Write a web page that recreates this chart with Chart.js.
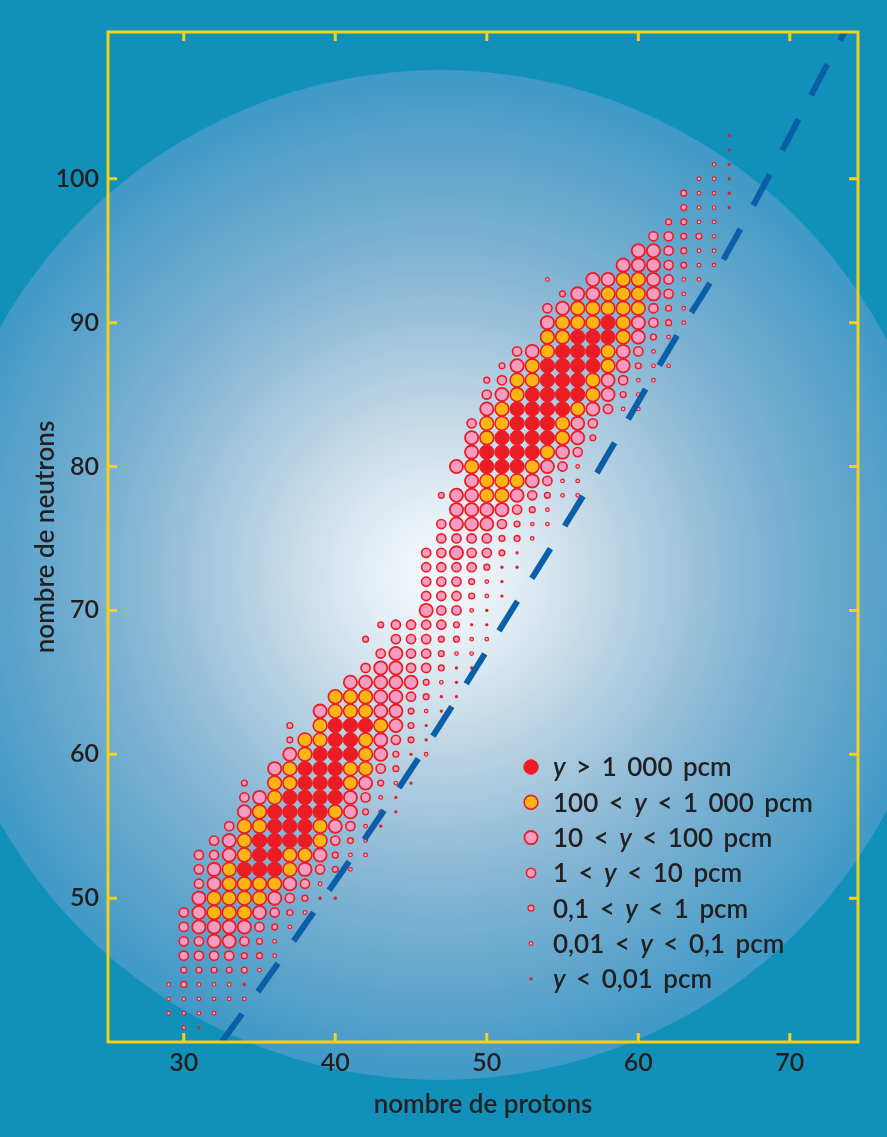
<!DOCTYPE html>
<html><head><meta charset="utf-8">
<script src="https://cdn.jsdelivr.net/npm/chart.js@4.4.1/dist/chart.umd.min.js"></script>
<style>html,body{margin:0;padding:0;background:#1190b9;overflow:hidden}canvas{display:block}</style>
</head><body>
<canvas id="c" width="887" height="1137"></canvas>
<script>
// ---- data: yield class of each (Z protons, N neutrons) fission product ----
// class codes: 1 y>1000, 2 100-1000, 3 10-100, 4 1-10, 5 0.1-1, 6 0.01-0.1, 7 <0.01 pcm ; '.' = none
const rowN = [41,42,43,44,45,46,47,48,49,50,51,52,53,54,55,56,57,58,59,60,61,62,63,64,65,66,67,68,69,70,71,72,73,74,75,76,77,78,79,80,81,82,83,84,85,86,87,88,89,90,91,92,93,94,95,96,97,98,99,100,101,102,103];
const rowStartZ = [30,29,29,29,30,30,30,30,30,31,31,31,31,32,33,34,34,34,36,37,37,37,39,40,41,42,43,42,43,46,46,46,46,46,47,47,48,47,49,48,49,49,49,50,50,50,51,52,54,54,54,55,54,59,60,61,62,63,63,64,65,66,66];
const rowCodes = ["67","6666","666666","656667","555556","4444556","4433456","43333456","432223456","3222234577","4322223467","43211123456","443211223566","43211112456","42211123467","32111123567","43211113467","5.2211123567","3211122457","3211123576","5221123457","5.211123577","322233567","222334577","33333567","43344577","4344566","5.4445566","54444577","34467","444567","444567","4444577","4434457","4444556","43334566","3333456","5332234566","32223466","321112346","31111234","321111235","422111234","32111123466","43211112356","542211123466","532111123566","43211123466","221112356","3222123456","4322222456","533222346","6..33223466","3334566","334566","44556","5566","5667","5667","667","67","7","7"];
// dashed line (Z, N)
const stabZ = [32.5,33.2,38.1,42.9,47.5,52.0,56.5,62.5,65.2,73.6];
const stabN = [40.0,41.0,48.3,55.6,63.0,70.6,78.2,89.0,93.6,110.2];
const xTickValues = [30,40,50,60,70];
const yTickValues = [50,60,70,80,90,100];
const legendLabels = ["y > 1 000 pcm","100 < y < 1 000 pcm","10 < y < 100 pcm","1 < y < 10 pcm","0,1 < y < 1 pcm","0,01 < y < 0,1 pcm","y < 0,01 pcm"];
const xTitle = "nombre de protons";
const yTitle = "nombre de neutrons";

// ---- styles ----
const RED='#ec1c24', ORANGE='#fdb515', PINK='#f59cc2';
const classStyle = {
  1:{r:7.2,fill:RED,border:RED,bw:1},
  2:{r:6.9,fill:ORANGE,border:RED,bw:1.6},
  3:{r:6.6,fill:PINK,border:RED,bw:1.8},
  4:{r:4.6,fill:PINK,border:RED,bw:1.6},
  5:{r:2.9,fill:PINK,border:RED,bw:1.4},
  6:{r:1.8,fill:'#f7b8d3',border:RED,bw:1.2},
  7:{r:1.6,fill:RED,border:RED,bw:0.1}
};
const FONT='Lato, "Open Sans", sans-serif';
const TXT='#231f20';

const pts={1:[],2:[],3:[],4:[],5:[],6:[],7:[]};
rowN.forEach((n,i)=>{
  const s=rowStartZ[i];
  [...rowCodes[i]].forEach((c,k)=>{ if(c!=='.') pts[c].push({x:s+k,y:n}); });
});

const datasets=[{
  type:'line',
  data: stabZ.map((z,i)=>({x:z,y:stabN[i]})),
  borderColor:'#0b5ea8', borderWidth:6, borderDash:[35,27], borderCapStyle:'butt',
  pointRadius:0, fill:false, cubicInterpolationMode:'monotone'
}];
[1,2,3,4,5,6,7].forEach(c=>{
  const s=classStyle[c];
  datasets.push({type:'scatter',data:pts[c],pointRadius:s.r,pointHoverRadius:s.r,
    backgroundColor:s.fill,borderColor:s.border,borderWidth:s.bw,pointBorderWidth:s.bw});
});

const bgPlugin={id:'bg',beforeDraw(chart){
  const ctx=chart.ctx; ctx.save();
  ctx.fillStyle='#1190b9'; ctx.fillRect(0,0,chart.width,chart.height);
  const cx=440, cy=575, R=505;
  const g=ctx.createRadialGradient(cx,cy,0,cx,cy,R);
  g.addColorStop(0,'#f7fafc'); g.addColorStop(0.15,'#e2edf4'); g.addColorStop(0.35,'#bcd4e4');
  g.addColorStop(0.6,'#88b7d5'); g.addColorStop(0.85,'#5aa3cb'); g.addColorStop(1,'#3f99c6');
  ctx.beginPath(); ctx.arc(cx,cy,R,0,Math.PI*2); ctx.fillStyle=g; ctx.fill();
  ctx.restore();
}};

const framePlugin={id:'frame',afterDraw(chart){
  const {ctx,chartArea:a,scales}=chart; ctx.save();
  ctx.strokeStyle='#f6cf1a'; ctx.lineWidth=3;
  ctx.strokeRect(a.left,a.top,a.right-a.left,a.bottom-a.top);
  ctx.beginPath();
  xTickValues.forEach(v=>{const p=scales.x.getPixelForValue(v); ctx.moveTo(p,a.bottom); ctx.lineTo(p,a.bottom-9); ctx.moveTo(p,a.top); ctx.lineTo(p,a.top+9);});
  yTickValues.forEach(v=>{const p=scales.y.getPixelForValue(v); ctx.moveTo(a.left,p); ctx.lineTo(a.left+9,p); ctx.moveTo(a.right,p); ctx.lineTo(a.right-9,p);});
  ctx.stroke();
  // legend
  const mx=531, tx=553, y0=767, dy=35.3, extraSpace=4;
  legendLabels.forEach((lab,i)=>{
    const y=y0+i*dy, s=classStyle[i+1];
    ctx.beginPath(); ctx.arc(mx,y,s.r,0,Math.PI*2); ctx.fillStyle=s.fill; ctx.fill();
    ctx.lineWidth=s.bw; ctx.strokeStyle=s.border; ctx.stroke();
    let x=tx; ctx.fillStyle=TXT; ctx.textBaseline='middle'; ctx.textAlign='left';
    lab.split(/(y| )/).forEach(seg=>{
      if(!seg) return;
      ctx.font=(seg==='y'?'italic ':'')+'600 26px '+FONT;
      if(seg===' '){ x+=ctx.measureText(' ').width+extraSpace; return; }
      ctx.fillText(seg,x,y+1); x+=ctx.measureText(seg).width;
    });
  });
  ctx.restore();
}};

new Chart(document.getElementById('c'),{
  type:'scatter',
  data:{datasets},
  plugins:[bgPlugin,framePlugin],
  options:{
    responsive:false, animation:false, events:[],
    layout:{padding:{left:0,right:29,top:32,bottom:0}},
    plugins:{legend:{display:false},tooltip:{enabled:false}},
    scales:{
      x:{type:'linear',min:25,max:74.5,
        afterBuildTicks:s=>{s.ticks=xTickValues.map(v=>({value:v}));},
        afterFit:s=>{s.height=95;},
        grid:{display:false,drawTicks:false},border:{display:false},
        ticks:{font:{family:FONT,size:25,weight:'600'},color:TXT,padding:6,maxRotation:0},
        title:{display:true,text:xTitle,color:TXT,font:{family:FONT,size:26,weight:'600'},padding:{top:0,bottom:17}}},
      y:{type:'linear',min:40,max:110.2,
        afterBuildTicks:s=>{s.ticks=yTickValues.map(v=>({value:v}));},
        afterFit:s=>{s.width=108;},
        grid:{display:false,drawTicks:false},border:{display:false},
        ticks:{font:{family:FONT,size:25,weight:'600'},color:TXT,padding:9},
        title:{display:true,text:yTitle,color:TXT,font:{family:FONT,size:26,weight:'600'},padding:{top:30,bottom:0}}}
    }
  }
});
</script>
</body></html>
